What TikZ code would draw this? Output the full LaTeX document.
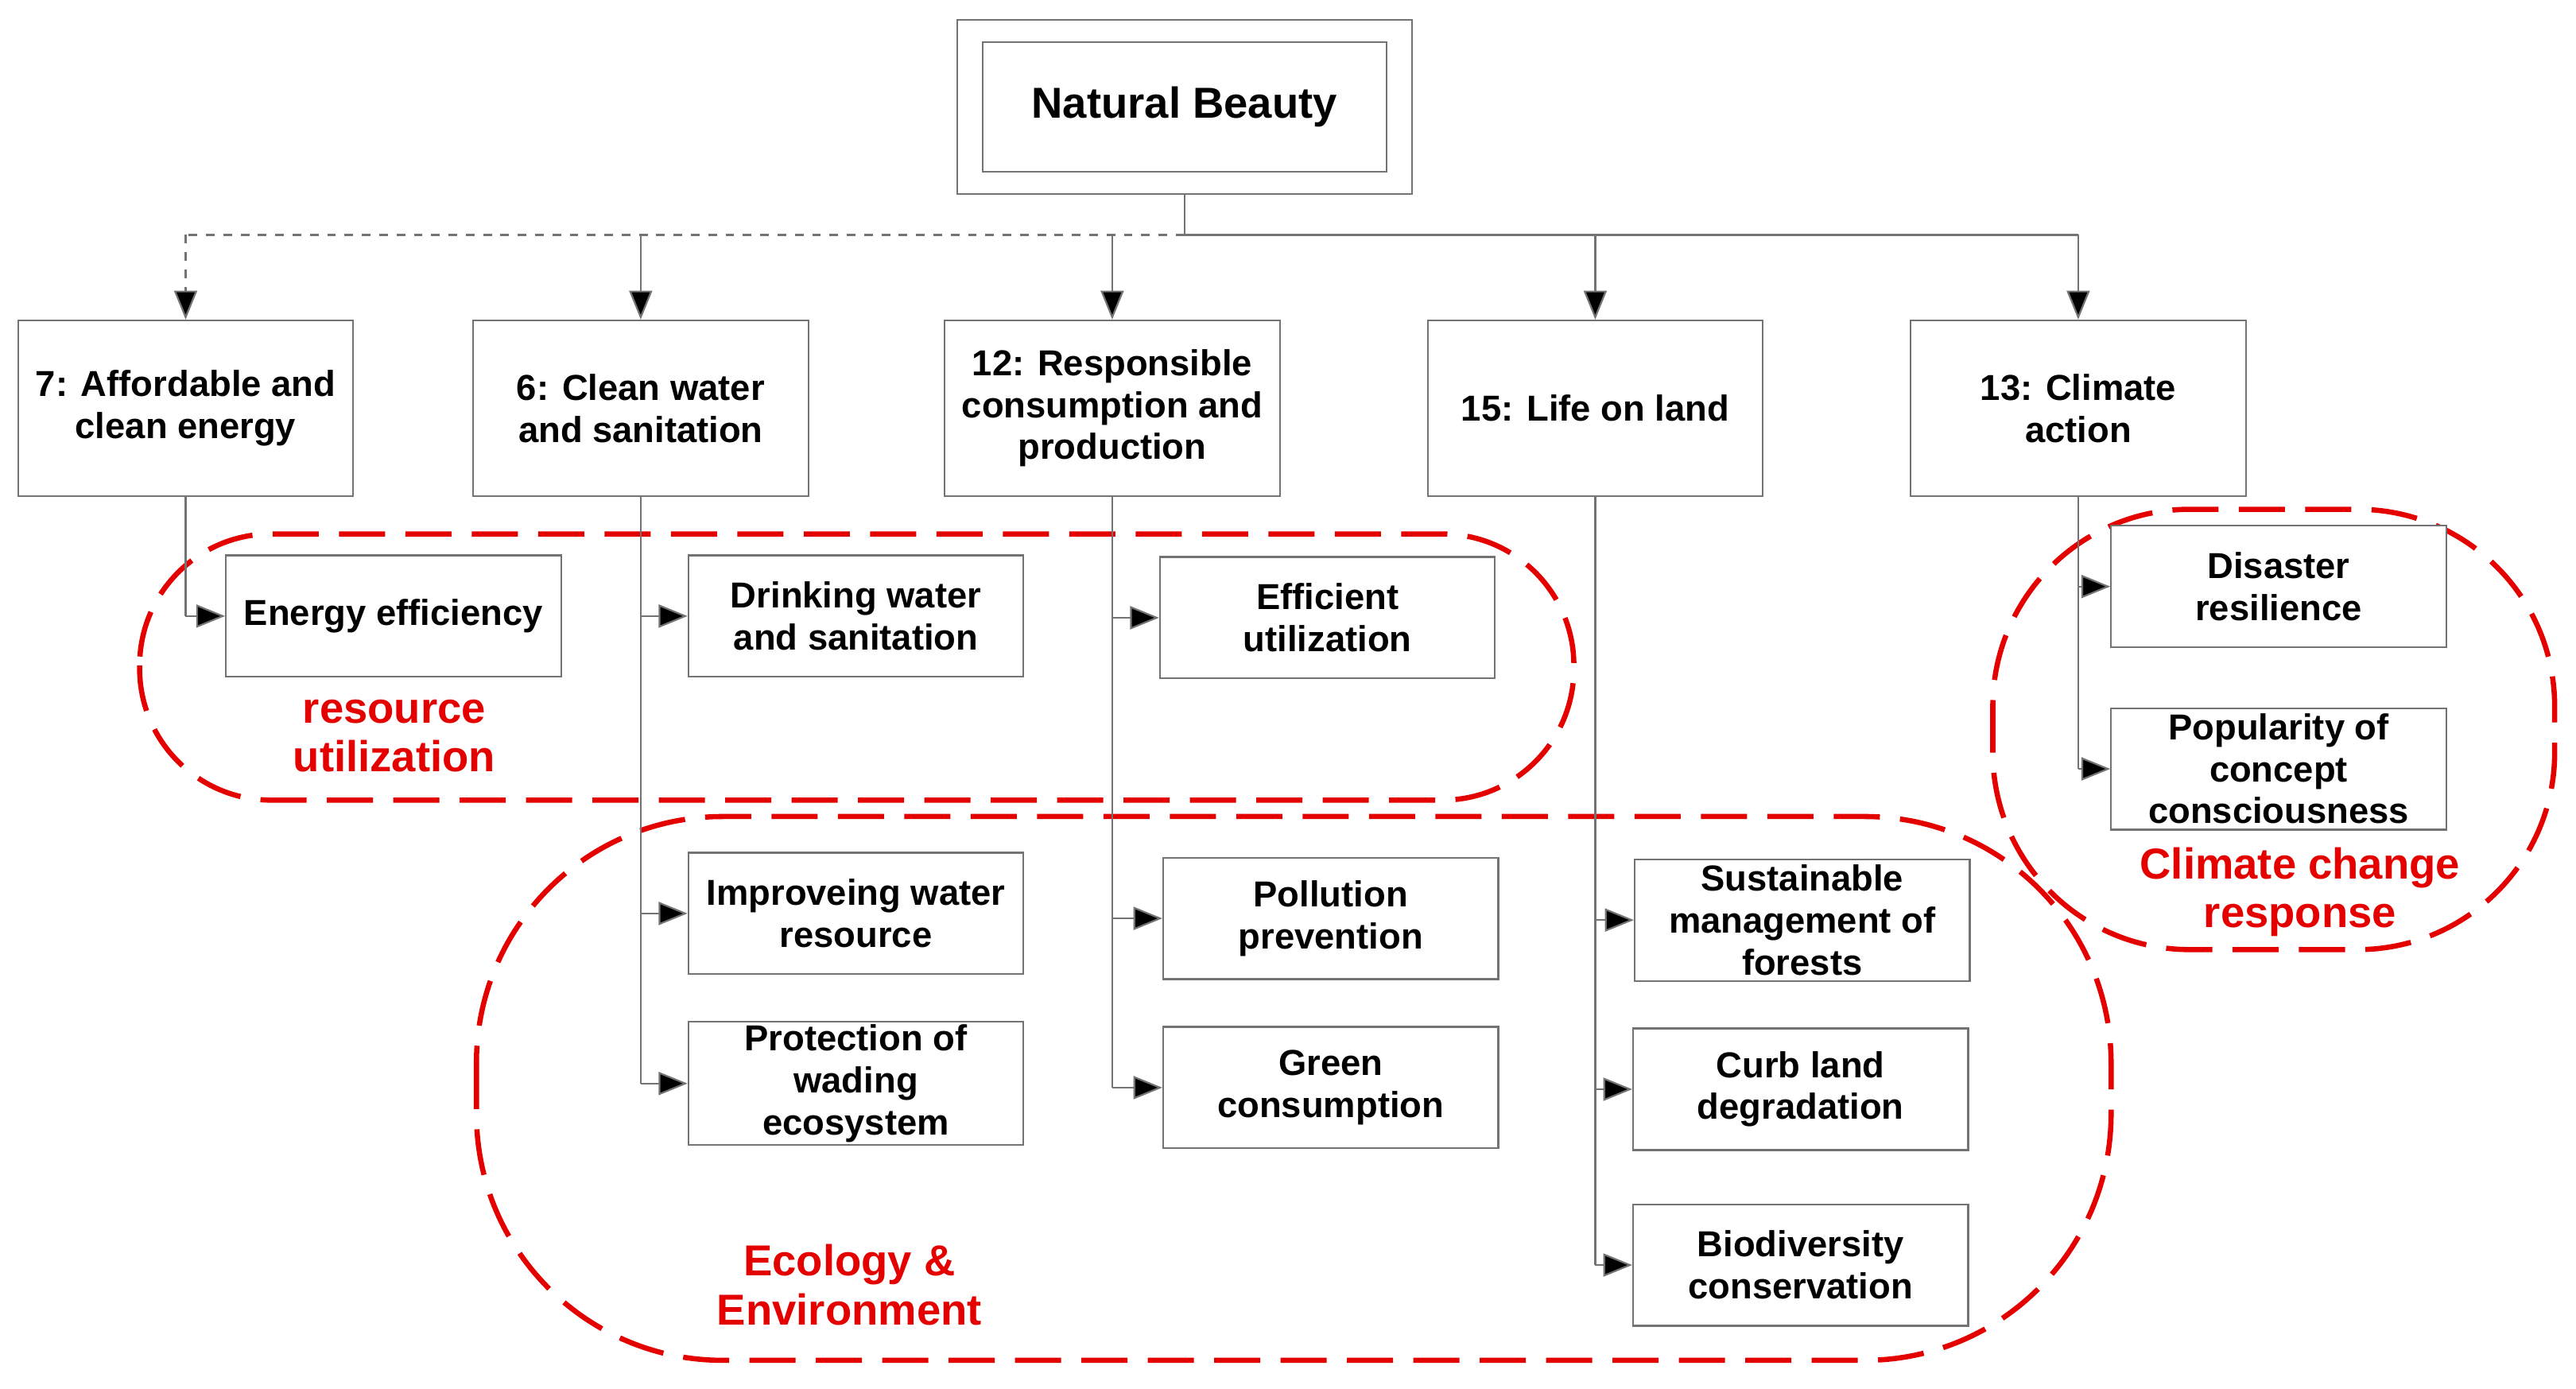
\documentclass[tikz,border=0pt]{standalone}
\usepackage{fontspec}
\setmainfont{Liberation Sans}
\usetikzlibrary{arrows.meta}
\begin{document}
\begin{tikzpicture}[x=0.02cm,y=-0.02cm,
  box/.style={draw=black!55,line width=0.6pt,fill=white,minimum width=4.08cm,minimum height=1.48cm,align=center,font=\fontsize{12.5}{14.5}\selectfont\bfseries,inner sep=1pt},
  top/.style={box,minimum height=2.14cm},
  ln/.style={draw=black!55,line width=0.6pt},
  arr/.style={ln,-{Triangle[length=10pt,width=8pt,fill=black]}},
  reg/.style={draw=red!90!black,line width=1.8pt,dash pattern=on 16pt off 7pt},
  lab/.style={text=red!90!black,font=\fontsize{15}{17}\selectfont\bfseries,align=center}]
\useasboundingbox (0,0) rectangle (1568,845);
% regions
\draw[reg,rounded corners=1.6cm] (85,325) rectangle (958,487);
\draw[reg,rounded corners=3cm] (290,497) rectangle (1285,828);
\draw[reg,rounded corners=2.4cm] (1213,310) rectangle (1555,578);
\node[lab] (l1) at (240,448) {resource\\utilization};
\node[lab] (l2) at (517,782) {Ecology \&\\Environment};
\node[lab] (l3) at (1400,543) {Climate change\\response};
% root
\node[draw=black!55,line width=0.6pt,minimum width=5.54cm,minimum height=2.12cm] (rootout) at (721,65) {};
\node[draw=black!55,line width=0.6pt,minimum width=4.92cm,minimum height=1.58cm,font=\fontsize{15}{17}\selectfont\bfseries] (root) at (721,65) {Natural Beauty};
% top nodes
\node[top] (t7) at (113,248.5) {7: Affordable and\\clean energy};
\node[top] (t6) at (390,248.5) {6: Clean water\\and sanitation};
\node[top] (t12) at (677,248.5) {12: Responsible\\consumption and\\production};
\node[top] (t15) at (971,248.5) {15: Life on land};
\node[top] (t13) at (1265,248.5) {13: Climate\\action};
\coordinate (b0) at (721,143);
\coordinate (b7) at (113,143);
\coordinate (b6) at (390,143);
\coordinate (b12) at (677,143);
\coordinate (b15) at (971,143);
\coordinate (b13) at (1265,143);
\draw[ln] (rootout.south) -- (b0);
\draw[ln,dashed] (b0) -- (b7);
\draw[ln] (b0) -- (b13);
\draw[arr,dashed] (b7) -- (t7.north);
\foreach \n in {6,12,15,13} \draw[arr] (b\n) -- (t\n.north);
% sub nodes
\node[box] (ee) at (239.5,375) {Energy efficiency};
\node[box] (dw) at (521,375) {Drinking water\\and sanitation};
\node[box] (eu) at (808,376) {Efficient\\utilization};
\node[box] (iw) at (521,556) {Improveing water\\resource};
\node[box] (pw) at (521,659.5) {Protection of\\wading\\ecosystem};
\node[box] (pp) at (810,559) {Pollution\\prevention};
\node[box] (gc) at (810,662) {Green\\consumption};
\node[box] (sm) at (1097,560) {Sustainable\\management of\\forests};
\node[box] (cl) at (1096,663) {Curb land\\degradation};
\node[box] (bc) at (1096,770) {Biodiversity\\conservation};
\node[box] (dr) at (1387,357) {Disaster\\resilience};
\node[box] (pc) at (1387,468) {Popularity of\\concept\\consciousness};
% connectors
\draw[ln] (t7.south) -- (113,375);
\draw[arr] (113,375) -- (ee.west);
\draw[ln] (t6.south) -- (390,659.5);
\foreach \m in {dw,iw,pw} \draw[arr] (390,0 |- \m.west) -- (\m.west);
\draw[ln] (t12.south) -- (677,662);
\foreach \m in {eu,pp,gc} \draw[arr] (677,0 |- \m.west) -- (\m.west);
\draw[ln] (t15.south) -- (971,770);
\foreach \m in {sm,cl,bc} \draw[arr] (971,0 |- \m.west) -- (\m.west);
\draw[ln] (t13.south) -- (1265,468);
\foreach \m in {dr,pc} \draw[arr] (1265,0 |- \m.west) -- (\m.west);
\end{tikzpicture}
\end{document}
